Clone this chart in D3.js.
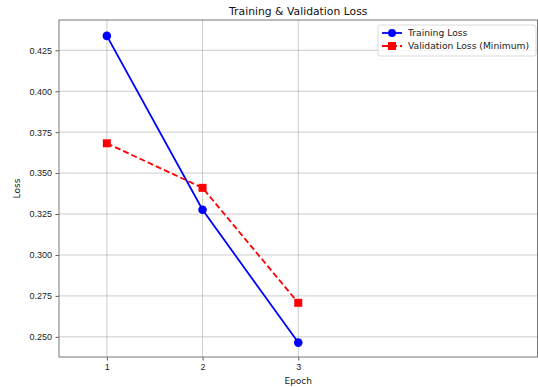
<!DOCTYPE html>
<html>
<head>
<meta charset="utf-8">
<script src="https://cdn.jsdelivr.net/npm/d3@7"></script>
<style>
  body { margin: 0; background: #fff; }
  svg { font-family: "DejaVu Sans", sans-serif; }
</style>
</head>
<body>
<svg id="chart" width="538" height="387"></svg>
<script>
const epochs = [1, 2, 3];
const trainingLoss = [0.4338, 0.3276, 0.2465];
const validationLoss = [0.3682, 0.3410, 0.2708];
const yTicks = [0.250, 0.275, 0.300, 0.325, 0.350, 0.375, 0.400, 0.425];
const xTicks = [1, 2, 3];
const seriesNames = ['Training Loss', 'Validation Loss (Minimum)'];

const margin = {top: 20, right: 0.5, bottom: 30, left: 59};
const width = 538, height = 387;

const svg = d3.select('#chart');

const x = d3.scaleLinear().domain([0.5, 5.5]).range([margin.left, width - margin.right]);
const y = d3.scaleLinear().domain([0.2377, 0.4435]).range([height - margin.bottom, margin.top]);

// grid
svg.append('g')
  .selectAll('line').data(yTicks).join('line')
  .attr('x1', margin.left).attr('x2', width - margin.right)
  .attr('y1', d => y(d)).attr('y2', d => y(d))
  .attr('stroke', '#b0b0b0').attr('stroke-width', 0.8).attr('opacity', 0.8);
svg.append('g')
  .selectAll('line').data(xTicks).join('line')
  .attr('y1', margin.top).attr('y2', height - margin.bottom)
  .attr('x1', d => x(d)).attr('x2', d => x(d))
  .attr('stroke', '#b0b0b0').attr('stroke-width', 0.8).attr('opacity', 0.8);

// axes
const xAxis = svg.append('g')
  .attr('transform', `translate(0,${height - margin.bottom})`)
  .call(d3.axisBottom(x).tickValues(xTicks).tickFormat(d3.format('d')).tickSize(3.5).tickPadding(3.5).tickSizeOuter(0));
const yAxis = svg.append('g')
  .attr('transform', `translate(${margin.left},0)`)
  .call(d3.axisLeft(y).tickValues(yTicks).tickFormat(d3.format('.3f')).tickSize(3.5).tickPadding(3.5).tickSizeOuter(0));
[xAxis, yAxis].forEach(g => {
  g.selectAll('.domain').remove();
  g.selectAll('.tick line').attr('stroke', '#333').attr('stroke-width', 0.8);
  g.selectAll('.tick text').attr('fill', '#222').style('font-size', '9px');
});

// frame
svg.append('rect')
  .attr('x', margin.left).attr('y', margin.top)
  .attr('width', width - margin.right - margin.left)
  .attr('height', height - margin.bottom - margin.top)
  .attr('fill', 'none').attr('stroke', '#777').attr('stroke-width', 1);

// lines
const line = d3.line().x((d, i) => x(epochs[i])).y(d => y(d));
svg.append('path').datum(trainingLoss)
  .attr('d', line).attr('fill', 'none')
  .attr('stroke', '#0000ff').attr('stroke-width', 1.8);
svg.append('path').datum(validationLoss)
  .attr('d', line).attr('fill', 'none')
  .attr('stroke', '#ff0000').attr('stroke-width', 1.8).attr('stroke-dasharray', '6,3');

svg.append('g').selectAll('circle').data(trainingLoss).join('circle')
  .attr('cx', (d, i) => x(epochs[i])).attr('cy', d => y(d)).attr('r', 4.3)
  .attr('fill', '#0000ff');
svg.append('g').selectAll('rect').data(validationLoss).join('rect')
  .attr('x', (d, i) => x(epochs[i]) - 4).attr('y', d => y(d) - 4)
  .attr('width', 8).attr('height', 8)
  .attr('fill', '#ff0000');

// title and labels
svg.append('text')
  .attr('x', (margin.left + width - margin.right) / 2).attr('y', 15)
  .attr('text-anchor', 'middle').style('font-size', '10.8px').attr('fill', '#111')
  .text('Training & Validation Loss');
svg.append('text')
  .attr('x', x(3)).attr('y', 384)
  .attr('text-anchor', 'middle').style('font-size', '9px').attr('fill', '#222')
  .text('Epoch');
svg.append('text')
  .attr('transform', `translate(20,${(margin.top + height - margin.bottom) / 2}) rotate(-90)`)
  .attr('text-anchor', 'middle').style('font-size', '9px').attr('fill', '#222')
  .text('Loss');

// legend
const legend = svg.append('g').attr('transform', 'translate(378,25)');
legend.append('rect')
  .attr('width', 158).attr('height', 31).attr('rx', 2)
  .attr('fill', '#fff').attr('fill-opacity', 0.8)
  .attr('stroke', '#d0d0d0').attr('stroke-width', 0.8);
const colors = ['#0000ff', '#ff0000'];
seriesNames.forEach((name, i) => {
  const row = legend.append('g').attr('transform', `translate(0,${8 + i * 13})`);
  row.append('line').attr('x1', 4).attr('x2', 24)
    .attr('stroke', colors[i]).attr('stroke-width', 1.8)
    .attr('stroke-dasharray', i === 1 ? '6,3' : null);
  if (i === 0) {
    row.append('circle').attr('cx', 14).attr('r', 4).attr('fill', colors[i]);
  } else {
    row.append('rect').attr('x', 10).attr('y', -4).attr('width', 8).attr('height', 8).attr('fill', colors[i]);
  }
  row.append('text').attr('x', 30).attr('dy', '0.35em')
    .style('font-size', '9.2px').attr('fill', '#222').text(name);
});
</script>
</body>
</html>
